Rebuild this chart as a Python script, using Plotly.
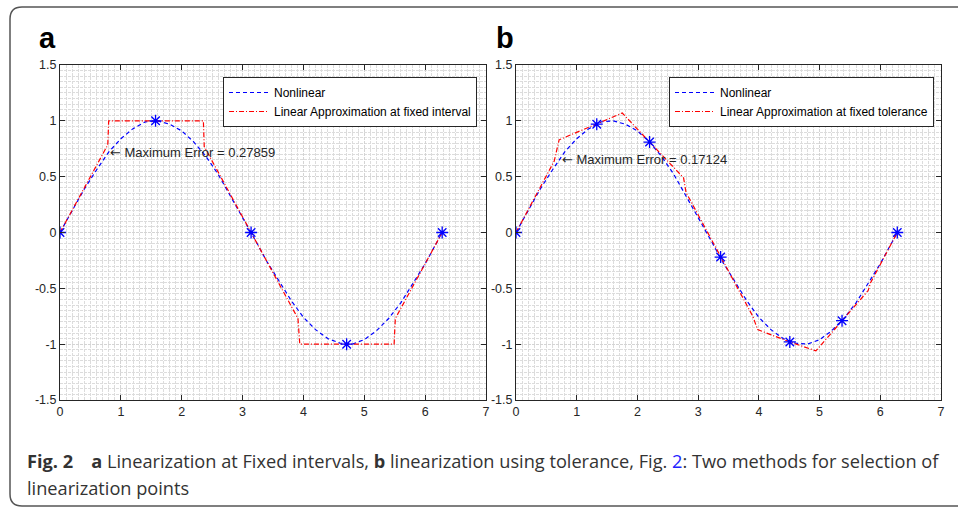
import plotly.graph_objects as go

W, H = 958, 507

# ---- data ----
nl_x = [0, 0.2, 0.4, 0.6, 0.8, 1.0, 1.2, 1.4, 1.6, 1.8, 2.0, 2.2, 2.4, 2.6, 2.8, 3.0,
        3.2, 3.4, 3.6, 3.8, 4.0, 4.2, 4.4, 4.6, 4.8, 5.0, 5.2, 5.4, 5.6, 5.8, 6.0, 6.2, 6.28]
nl_y = [0, 0.20, 0.39, 0.56, 0.72, 0.84, 0.93, 0.99, 1.00, 0.97, 0.91, 0.81, 0.68, 0.52, 0.33, 0.14,
        -0.06, -0.26, -0.44, -0.61, -0.76, -0.87, -0.95, -0.99, -1.00, -0.96, -0.88, -0.77, -0.63, -0.46, -0.28, -0.08, 0]

lin_a_x = [0, 0.785, 0.80, 2.356, 2.37, 3.14, 3.91, 3.94, 5.49, 5.51, 6.28]
lin_a_y = [0, 0.785, 1.0, 1.0, 0.77, 0, -0.77, -1.0, -1.0, -0.77, 0]
pts_a_x = [0, 1.57, 3.14, 4.71, 6.28]
pts_a_y = [0, 1.0, 0, -1.0, 0]

lin_b_x = [0, 0.63, 0.71, 1.33, 1.75, 2.20, 2.76, 2.80, 3.37, 3.90, 3.98, 4.51, 4.94, 5.37, 5.80, 5.84, 6.28]
lin_b_y = [0, 0.64, 0.83, 0.97, 1.07, 0.81, 0.49, 0.36, -0.22, -0.75, -0.87, -0.98, -1.06, -0.79, -0.52, -0.45, 0]
pts_b_x = [0, 1.33, 2.20, 3.37, 4.51, 5.37, 6.28]
pts_b_y = [0, 0.97, 0.81, -0.22, -0.98, -0.79, 0]

x_ticks = [0, 1, 2, 3, 4, 5, 6, 7]
y_ticks = [-1.5, -1, -0.5, 0, 0.5, 1, 1.5]
y_tick_text = ["-1.5", "-1", "-0.5", "0", "0.5", "1", "1.5"]

err_a = "Maximum Error = 0.27859"
err_b = "Maximum Error = 0.17124"
err_a_pos = (0.79, 0.72)
err_b_pos = (0.72, 0.65)

BLUE = "#0000ff"
RED = "#ff0000"
FONT = "Liberation Sans, Arial, sans-serif"
ARROW = "<span style='font-family:DejaVu Sans'>\u2190</span> "

fig = go.Figure()

def add_panel(xr, yr, lx, ly, px, py, leg_name, legend_id):
    fig.add_trace(go.Scatter(x=nl_x, y=nl_y, xaxis=xr, yaxis=yr, mode="lines",
                             line=dict(color=BLUE, width=1.2, dash="4px,3px"),
                             name="Nonlinear", legend=legend_id))
    fig.add_trace(go.Scatter(x=lx, y=ly, xaxis=xr, yaxis=yr, mode="lines",
                             line=dict(color=RED, width=1.2, dash="5px,2px,1px,2px"),
                             name=leg_name, legend=legend_id))
    fig.add_trace(go.Scatter(x=px, y=py, xaxis=xr, yaxis=yr, mode="markers",
                             marker=dict(symbol="asterisk-open", size=10, color=BLUE,
                                         line=dict(color=BLUE, width=1.3)),
                             showlegend=False))

add_panel("x", "y", lin_a_x, lin_a_y, pts_a_x, pts_a_y,
          "Linear Approximation at fixed interval", "legend")
add_panel("x2", "y2", lin_b_x, lin_b_y, pts_b_x, pts_b_y,
          "Linear Approximation at fixed tolerance", "legend2")

ytop = 1 - 65 / H
ybot = 1 - 400 / H

GRID = dict(showgrid=True, gridcolor="#d4d4d4", griddash="3px,1px", gridwidth=1)
MINOR = dict(showgrid=True, gridcolor="#dcdcdc", griddash="3px,1px", gridwidth=1)

def xaxis(dom, anchor):
    return dict(domain=dom, anchor=anchor, range=[0, 7], tickvals=x_ticks,
                ticks="inside", ticklen=5, tickcolor="#262626", mirror="allticks",
                showline=True, linecolor="#262626", linewidth=1,
                minor=dict(dtick=0.1, **MINOR), **GRID, automargin=False,
                zeroline=False, tickfont=dict(family=FONT, size=12.5, color="#262626"))

def yaxis(anchor):
    return dict(domain=[ybot, ytop], anchor=anchor, range=[-1.5, 1.5],
                tickvals=y_ticks, ticktext=y_tick_text,
                ticks="inside", ticklen=5, tickcolor="#262626", mirror="allticks",
                showline=True, linecolor="#262626", linewidth=1,
                minor=dict(dtick=0.05, **MINOR), **GRID, automargin=False,
                zeroline=False, tickfont=dict(family=FONT, size=12.5, color="#262626"))

legend_style = dict(bgcolor="white", bordercolor="#262626", borderwidth=1,
                    font=dict(family=FONT, size=12, color="#000000"),
                    xanchor="left", yanchor="top", tracegroupgap=0, itemwidth=40)

fig.update_layout(
    width=W, height=H, autosize=False, margin=dict(l=0, r=0, t=0, b=0, pad=0),
    paper_bgcolor="white", plot_bgcolor="white",
    xaxis=xaxis([60 / W, 486 / W], "y"),
    yaxis=yaxis("x"),
    xaxis2=xaxis([516 / W, 941 / W], "y2"),
    yaxis2=yaxis("x2"),
    legend=dict(x=223 / W, y=1 - 77 / H, **legend_style),
    legend2=dict(x=669 / W, y=1 - 77 / H, **legend_style),
    showlegend=True,
)

anns = [
    dict(x=err_a_pos[0], y=err_a_pos[1], xref="x", yref="y", text=ARROW + err_a, showarrow=False,
         xanchor="left", yanchor="middle", font=dict(family=FONT, size=13, color="#262626")),
    dict(x=err_b_pos[0], y=err_b_pos[1], xref="x2", yref="y2", text=ARROW + err_b, showarrow=False,
         xanchor="left", yanchor="middle", font=dict(family=FONT, size=13, color="#262626")),
    dict(x=37 / W, y=1 - 38 / H, xref="paper", yref="paper", text="<b>a</b>", showarrow=False,
         xanchor="left", yanchor="middle", font=dict(family=FONT, size=29, color="#000000")),
    dict(x=494 / W, y=1 - 38 / H, xref="paper", yref="paper", text="<b>b</b>", showarrow=False,
         xanchor="left", yanchor="middle", font=dict(family=FONT, size=29, color="#000000")),
    dict(x=25 / W, y=1 - 461 / H, xref="paper", yref="paper",
         text="<b>Fig. 2</b>\u2003<b>a</b> Linearization at Fixed intervals, <b>b</b> linearization using tolerance, Fig. <span style='color:#2323ff'>2</span>: Two methods for selection of",
         showarrow=False, xanchor="left", yanchor="middle",
         font=dict(family="Open Sans, sans-serif", size=18.2, color="#333333")),
    dict(x=25 / W, y=1 - 488 / H, xref="paper", yref="paper", text="linearization points",
         showarrow=False, xanchor="left", yanchor="middle",
         font=dict(family="Open Sans, sans-serif", size=18.2, color="#333333")),
]
fig.update_layout(annotations=anns)

# rounded outer frame
r = 12
x0, y0, x1, y1 = 10, 7, 975, 506
def px(v): return v / W
def py(v): return 1 - v / H
path = (f"M {px(x1)},{py(y0)} L {px(x0 + r)},{py(y0)} Q {px(x0)},{py(y0)} {px(x0)},{py(y0 + r)} "
        f"L {px(x0)},{py(y1 - r)} Q {px(x0)},{py(y1)} {px(x0 + r)},{py(y1)} L {px(x1)},{py(y1)}")
fig.add_shape(type="path", path=path, xref="paper", yref="paper",
              line=dict(color="#555555", width=1.5))

fig.write_html("out.html", config={"displayModeBar": False, "responsive": False})

# remove default page margins so the figure sits at (0,0) in the window
with open("out.html", "r", encoding="utf-8") as f:
    html = f.read()
css = ("<style>html,body{margin:0;padding:0;width:958px;height:507px;overflow:hidden;}"
       ".plotly-graph-div{position:absolute;left:0;top:0;}</style>")
html = html.replace("<head>", "<head>" + css, 1)
with open("out.html", "w", encoding="utf-8") as f:
    f.write(html)
